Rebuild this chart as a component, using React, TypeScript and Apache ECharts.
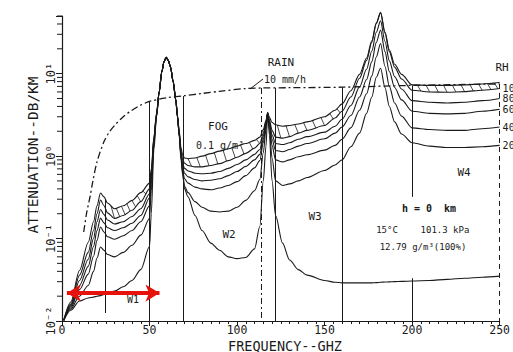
import React, { useEffect, useRef } from "react";
import * as echarts from "echarts";

// Frequency grid (GHz) shared by the attenuation curves
const freqs = [1, 5, 10, 15, 18, 20, 22, 24, 26, 30, 35, 40, 45, 50, 51, 52.5, 54, 55.5, 57, 58.3, 59.5, 60.7, 62, 63.5, 65, 66, 67, 68, 69, 70, 72, 76, 80, 85, 90, 95, 100, 105, 110, 113, 115, 116.5, 117.5, 118.5, 120, 122, 126, 130, 135, 140, 150, 156, 160, 165, 170, 174, 177, 179.5, 182, 184.5, 187, 190, 194, 200, 210, 220, 230, 240, 250];

// Attenuation (dB/km)
const dryAir = [0.0102, 0.0135, 0.0175, 0.019, 0.0195, 0.02, 0.0203, 0.021, 0.0215, 0.023, 0.026, 0.031, 0.042, 0.08, 0.2, 1.2, 3.0, 5.9, 10.5, 14, 15.8, 14.5, 12, 8, 4.7, 2.9, 1.8, 1.0, 0.6, 0.4, 0.32, 0.19, 0.125, 0.088, 0.072, 0.06, 0.057, 0.059, 0.075, 0.14, 0.5, 1.3, 3.3, 1.8, 0.5, 0.19, 0.088, 0.055, 0.042, 0.036, 0.031, 0.0295, 0.029, 0.029, 0.029, 0.029, 0.029, 0.0292, 0.0295, 0.0297, 0.0298, 0.03, 0.0302, 0.0306, 0.031, 0.032, 0.033, 0.034, 0.035];
const rh20 = [0.0102, 0.014, 0.02, 0.027, 0.04, 0.058, 0.079, 0.072, 0.064, 0.06, 0.068, 0.083, 0.11, 0.175, 0.38, 1.4, 3.0, 6.0, 10.5, 14, 15.8, 14.5, 12, 8, 4.8, 3.0, 1.7, 0.9, 0.58, 0.43, 0.36, 0.28, 0.24, 0.215, 0.21, 0.215, 0.24, 0.29, 0.38, 0.52, 1.1, 2.1, 3.3, 2.1, 0.95, 0.5, 0.44, 0.46, 0.5, 0.55, 0.67, 0.78, 0.9, 1.3, 1.9, 3.3, 5.2, 9.0, 11.6, 6.8, 4.0, 2.6, 1.85, 1.45, 1.32, 1.27, 1.27, 1.3, 1.35];
const rh40 = [0.0102, 0.0145, 0.024, 0.037, 0.061, 0.095, 0.138, 0.12, 0.105, 0.098, 0.108, 0.125, 0.16, 0.25, 0.46, 1.5, 3.1, 6.0, 10.5, 14, 15.8, 14.5, 12, 8, 4.8, 3.0, 1.75, 0.95, 0.65, 0.53, 0.47, 0.42, 0.4, 0.39, 0.41, 0.44, 0.49, 0.58, 0.72, 0.88, 1.45, 2.3, 3.3, 2.35, 1.35, 0.9, 0.85, 0.9, 0.98, 1.04, 1.18, 1.35, 1.6, 2.2, 3.6, 5.7, 9.4, 15.8, 23.2, 12.3, 7.0, 4.4, 3.05, 2.2, 2.1, 2.05, 2.05, 2.15, 2.25];
const rh60 = [0.0102, 0.015, 0.027, 0.046, 0.08, 0.125, 0.177, 0.155, 0.135, 0.125, 0.135, 0.153, 0.19, 0.31, 0.52, 1.55, 3.15, 6.0, 10.5, 14, 15.8, 14.5, 12, 8, 4.8, 3.0, 1.8, 1.0, 0.72, 0.62, 0.56, 0.52, 0.5, 0.51, 0.53, 0.58, 0.65, 0.75, 0.9, 1.05, 1.6, 2.4, 3.3, 2.5, 1.6, 1.17, 1.13, 1.2, 1.32, 1.42, 1.62, 1.9, 2.25, 3.1, 5.2, 8.5, 14, 23.8, 33.7, 18.5, 10.6, 6.8, 4.8, 3.5, 3.3, 3.25, 3.3, 3.5, 3.7];
const rh80 = [0.0102, 0.0155, 0.031, 0.056, 0.1, 0.16, 0.225, 0.195, 0.168, 0.15, 0.16, 0.185, 0.23, 0.35, 0.57, 1.6, 3.2, 6.0, 10.5, 14, 15.8, 14.5, 12, 8, 4.8, 3.0, 1.85, 1.08, 0.8, 0.71, 0.66, 0.62, 0.61, 0.62, 0.65, 0.71, 0.79, 0.9, 1.05, 1.2, 1.75, 2.5, 3.3, 2.6, 1.8, 1.42, 1.38, 1.45, 1.6, 1.72, 1.95, 2.3, 2.8, 4.1, 6.9, 11.3, 18.8, 31.5, 43.6, 24.5, 14.3, 9.2, 6.5, 4.7, 4.5, 4.4, 4.5, 4.7, 5.0];
const rh100 = [0.0102, 0.016, 0.036, 0.068, 0.125, 0.2, 0.293, 0.25, 0.205, 0.175, 0.19, 0.22, 0.28, 0.4, 0.62, 1.65, 3.25, 6.0, 10.5, 14, 15.8, 14.5, 12, 8, 4.8, 3.0, 1.9, 1.15, 0.9, 0.82, 0.77, 0.74, 0.74, 0.77, 0.81, 0.88, 0.97, 1.08, 1.25, 1.42, 1.9, 2.6, 3.3, 2.75, 2.05, 1.7, 1.65, 1.72, 1.9, 2.05, 2.35, 2.9, 3.5, 5.2, 8.8, 14.5, 24, 40, 54.6, 31, 18.5, 12, 8.6, 6.3, 6.0, 5.95, 6.05, 6.3, 6.6];
const fog100 = [0.0102, 0.017, 0.041, 0.09, 0.16, 0.25, 0.357, 0.32, 0.27, 0.23, 0.25, 0.29, 0.36, 0.47, 0.7, 1.7, 3.3, 6.0, 10.5, 14, 15.8, 14.5, 12, 8.1, 4.9, 3.1, 2.0, 1.25, 1.02, 0.95, 0.93, 0.95, 1.0, 1.07, 1.15, 1.23, 1.32, 1.42, 1.55, 1.7, 2.1, 2.7, 3.4, 2.95, 2.55, 2.4, 2.3, 2.35, 2.45, 2.6, 3.0, 3.6, 4.3, 6.2, 9.8, 15.5, 25, 41, 55.5, 32, 19.5, 13, 9.8, 7.3, 7.2, 7.2, 7.3, 7.5, 7.8];

// Rain 10 mm/h
const rainFreqs = [12.4, 14, 16, 17.5, 20, 24, 27, 30, 35, 40, 45, 50, 60, 70, 80, 90, 105, 114, 130, 160, 200, 250];
const rain10mmh = [0.12, 0.2, 0.32, 0.48, 0.85, 1.5, 1.95, 2.35, 3.0, 3.6, 4.15, 4.6, 5.1, 5.4, 5.75, 6.1, 6.6, 6.7, 6.75, 6.85, 7.2, 7.5];

// Window boundary lines: frequency, upper value
const edgeFreqs = [24.6, 50, 69, 114, 122, 160, 200, 250];
const edgeTops = [0.3, 4.6, 5.35, 6.7, 6.7, 6.85, 7.2, 7.5];

// Hatched fog band sample frequencies
const hatchFreqs = [28, 31, 34, 37, 40, 43, 46, 72, 77, 82, 87, 92, 97, 102, 107, 111, 123, 128, 133, 138, 143, 148, 153, 157, 203, 208, 213, 218, 223, 228, 233, 238, 243, 247];

// Y minor ticks
const yMinorTicks = [0.02, 0.03, 0.04, 0.05, 0.06, 0.07, 0.08, 0.09, 0.2, 0.3, 0.4, 0.5, 0.6, 0.7, 0.8, 0.9, 2, 3, 4, 5, 6, 7, 8, 9, 20, 30, 40, 50];

const rhLabels = ["20", "40", "60", "80", "100"];
const w1ArrowFreqs = [2.8, 55.7];
const w1ArrowLevel = 0.0218;

const MONO = '"DejaVu Sans Mono", monospace';
const INK = "#1a1a1a";

function interpLog(xs: number[], ys: number[], x: number): number {
  if (x <= xs[0]) return ys[0];
  for (let i = 1; i < xs.length; i++) {
    if (x <= xs[i]) {
      const t = (x - xs[i - 1]) / (xs[i] - xs[i - 1]);
      return Math.pow(10, Math.log10(ys[i - 1]) * (1 - t) + Math.log10(ys[i]) * t);
    }
  }
  return ys[ys.length - 1];
}

export default function App() {
  const ref = useRef<HTMLDivElement>(null);
  useEffect(() => {
    if (!ref.current) return;
    const chart = echarts.init(ref.current, undefined, { renderer: "svg" });

    const curve = (name: string, vals: number[], label?: string) => ({
      name,
      type: "line",
      data: freqs.map((f, i) => [f, vals[i]]),
      symbol: "none",
      smooth: 0.3,
      smoothMonotone: "x",
      clip: false,
      silent: true,
      lineStyle: { color: INK, width: 1.1 },
      endLabel: label
        ? { show: true, formatter: label, color: INK, fontSize: 10, fontFamily: MONO, distance: 0, offset: [3, 0] }
        : { show: false },
    });

    const edgeLines: any[] = [];
    edgeFreqs.forEach((f, i) => {
      const top = edgeTops[i];
      let type: any = "solid";
      if (f === 114) type = [6, 3, 2, 3];
      if (f === 250) type = [5, 4];
      if (f === 200) {
        edgeLines.push([{ coord: [f, top], lineStyle: { type } }, { coord: [f, 0.32] }]);
        edgeLines.push([{ coord: [f, 0.033], lineStyle: { type } }, { coord: [f, 0.01] }]);
      } else if (f === 24.6) {
        edgeLines.push([{ coord: [f, top], lineStyle: { type } }, { coord: [f, 0.0125] }]);
      } else {
        edgeLines.push([{ coord: [f, top], lineStyle: { type } }, { coord: [f, 0.01] }]);
      }
    });

    const option: any = {
      animation: false,
      backgroundColor: "#ffffff",
      grid: { left: 62, right: 6, top: 16, bottom: 31, containLabel: false },
      xAxis: {
        type: "value",
        min: 0,
        max: 250,
        interval: 50,
        axisLine: { show: true, lineStyle: { color: INK, width: 1.2 } },
        axisTick: { show: true, length: 5, lineStyle: { color: INK } },
        minorTick: { show: true, splitNumber: 10, length: 3, lineStyle: { color: INK } },
        splitLine: { show: false },
        axisLabel: { color: INK, fontSize: 11.5, fontFamily: MONO, margin: 3 },
      },
      yAxis: {
        type: "log",
        logBase: 10,
        min: 0.01,
        max: 50,
        axisLine: { show: true, lineStyle: { color: INK, width: 1.2 } },
        axisTick: { show: true, length: 6, lineStyle: { color: INK } },
        splitLine: { show: false },
        axisLabel: {
          rotate: 90,
          margin: 5,
          color: INK,
          fontSize: 12,
          fontFamily: MONO,
          formatter: (v: number) => {
            const e = Math.round(Math.log10(v));
            if (Math.abs(Math.pow(10, e) - v) / v > 1e-6) return "";
            const sup: Record<string, string> = { "-2": "⁻²", "-1": "⁻¹", "0": "⁰", "1": "¹" };
            return "10" + (sup[String(e)] || "");
          },
        },
      },
      series: [
        curve("dry", dryAir),
        curve("RH 20%", rh20, rhLabels[0]),
        curve("RH 40%", rh40, rhLabels[1]),
        curve("RH 60%", rh60, rhLabels[2]),
        curve("RH 80%", rh80, rhLabels[3]),
        curve("RH 100%", rh100, rhLabels[4]),
        curve("Fog 0.1 g/m3", fog100),
        {
          name: "Rain 10 mm/h",
          type: "line",
          data: rainFreqs.map((f, i) => [f, rain10mmh[i]]),
          symbol: "none",
          smooth: 0.3,
          silent: true,
          lineStyle: { color: INK, width: 1.3, type: [7, 3, 2, 3] },
          markLine: {
            silent: true,
            symbol: ["none", "none"],
            label: { show: false },
            lineStyle: { color: INK, width: 1 },
            data: edgeLines,
          },
        },
        {
          name: "W1 arrow",
          type: "line",
          data: [],
          markLine: {
            silent: true,
            symbol: ["arrow", "arrow"],
            symbolSize: [13, 14],
            label: { show: false },
            lineStyle: { color: "#e8120c", width: 4, type: "solid" },
            data: [[{ coord: [w1ArrowFreqs[0], w1ArrowLevel] }, { coord: [w1ArrowFreqs[1], w1ArrowLevel] }]],
          },
        },
        {
          name: "fog hatch",
          type: "custom",
          silent: true,
          data: hatchFreqs.map((f) => [f, interpLog(freqs, fog100, f)]),
          renderItem: (params: any, api: any) => {
            const f = api.value(0);
            const p1 = api.coord([f, interpLog(freqs, fog100, f)]);
            const p2 = api.coord([f + 2, interpLog(freqs, rh100, f + 2)]);
            return {
              type: "line",
              shape: { x1: p1[0], y1: p1[1], x2: p2[0], y2: p2[1] },
              style: { stroke: INK, lineWidth: 0.8 },
            };
          },
        },
        {
          name: "y minor ticks",
          type: "custom",
          silent: true,
          clip: false,
          data: yMinorTicks.map((v) => [0, v]),
          renderItem: (params: any, api: any) => {
            const p = api.coord([0, api.value(1)]);
            return {
              type: "line",
              shape: { x1: p[0] - 5, y1: p[1], x2: p[0], y2: p[1] },
              style: { stroke: INK, lineWidth: 1 },
            };
          },
        },
      ],
      graphic: [
        { type: "text", x: 33, y: 155, rotation: Math.PI / 2, style: { text: "ATTENUATION--DB/KM", font: `14.5px ${MONO}`, fill: INK, align: "center", verticalAlign: "middle" } },
        { type: "text", x: 285, y: 345.5, style: { text: "FREQUENCY--GHZ", font: `13.5px ${MONO}`, fill: INK, align: "center", verticalAlign: "middle" } },
        { type: "text", x: 281, y: 62, style: { text: "RAIN", font: `11px ${MONO}`, fill: INK, align: "center", verticalAlign: "middle" } },
        { type: "text", x: 264, y: 79, style: { text: "10 mm/h", font: `10px ${MONO}`, fill: INK, align: "left", verticalAlign: "middle" } },
        { type: "line", shape: { x1: 250, y1: 89, x2: 263, y2: 79 }, style: { stroke: INK, lineWidth: 1 } },
        { type: "text", x: 218, y: 126, style: { text: "FOG", font: `11px ${MONO}`, fill: INK, align: "center", verticalAlign: "middle" } },
        { type: "text", x: 220, y: 145, style: { text: "0.1 g/m³", font: `10px ${MONO}`, fill: INK, align: "center", verticalAlign: "middle" } },
        { type: "text", x: 133, y: 299, style: { text: "W1", font: `10px ${MONO}`, fill: INK, align: "center", verticalAlign: "middle" } },
        { type: "text", x: 229, y: 234, style: { text: "W2", font: `11px ${MONO}`, fill: INK, align: "center", verticalAlign: "middle" } },
        { type: "text", x: 315, y: 216, style: { text: "W3", font: `11px ${MONO}`, fill: INK, align: "center", verticalAlign: "middle" } },
        { type: "text", x: 464, y: 172, style: { text: "W4", font: `11px ${MONO}`, fill: INK, align: "center", verticalAlign: "middle" } },
        { type: "text", x: 429, y: 208, style: { text: "h = 0  km", font: `bold 10px ${MONO}`, fill: INK, align: "center", verticalAlign: "middle", backgroundColor: "#fff" } },
        { type: "text", x: 387, y: 230, style: { text: "15°C", font: `9px ${MONO}`, fill: INK, align: "center", verticalAlign: "middle" } },
        { type: "text", x: 445, y: 230, style: { text: "101.3 kPa", font: `9px ${MONO}`, fill: INK, align: "center", verticalAlign: "middle", backgroundColor: "#fff" } },
        { type: "text", x: 423, y: 247, style: { text: "12.79 g/m³(100%)", font: `9px ${MONO}`, fill: INK, align: "center", verticalAlign: "middle", backgroundColor: "#fff" } },
        { type: "text", x: 502, y: 67, style: { text: "RH", font: `11px ${MONO}`, fill: INK, align: "center", verticalAlign: "middle" } },
      ],
    };
    chart.setOption(option);
    return () => chart.dispose();
  }, []);
  return <div ref={ref} style={{ position: "fixed", left: 0, top: 0, width: 513, height: 352, background: "#fff" }} />;
}
